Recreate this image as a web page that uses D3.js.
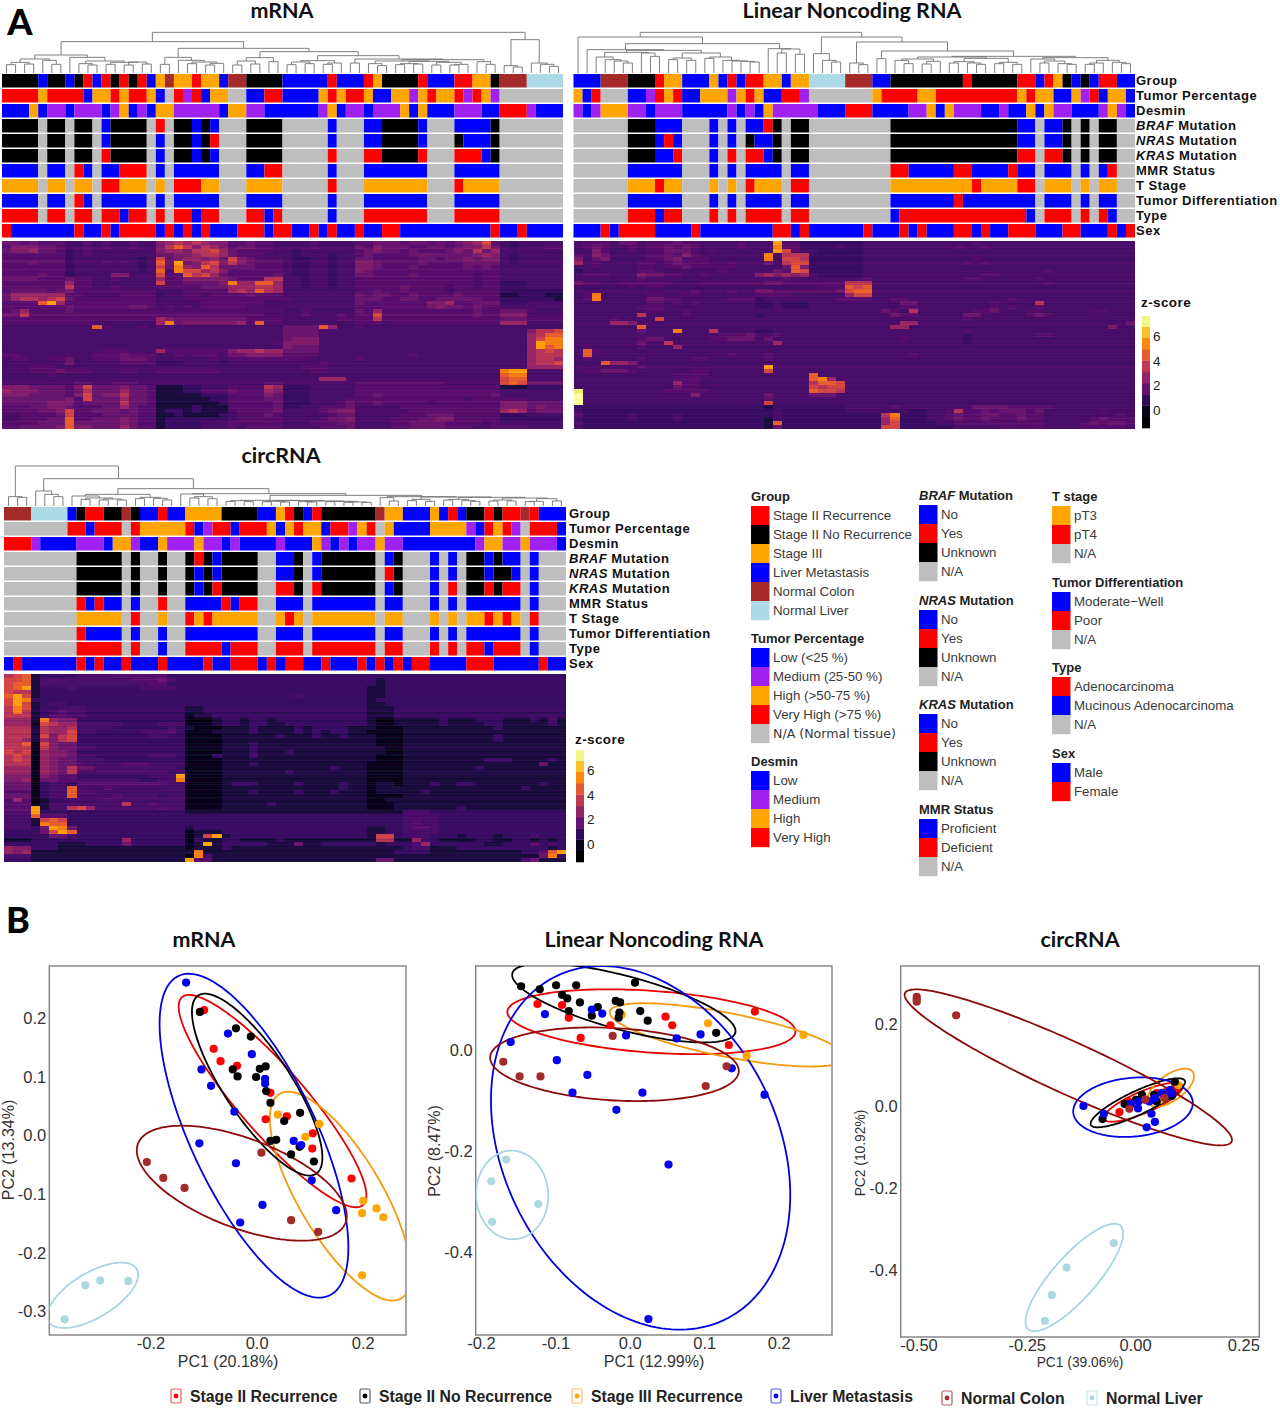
<!DOCTYPE html>
<html><head><meta charset="utf-8">
<script src="https://cdn.jsdelivr.net/npm/d3@7/dist/d3.min.js"></script>
<style>html,body{margin:0;background:#fff}svg{display:block}</style></head>
<body><svg id="c" width="1280" height="1424"></svg>
<script>
const trackLabels=[["","Group"],["","Tumor Percentage"],["","Desmin"],["BRAF"," Mutation"],["NRAS"," Mutation"],["KRAS"," Mutation"],["","MMR Status"],["","T Stage"],["","Tumor Differentiation"],["","Type"],["","Sex"]];
const palette={R:"#ff0000",K:"#000000",O:"#ffa500",B:"#0000ff",N:"#a52a2a",L:"#add8e6",P:"#a020f0",G:"#bebebe"};

const mrnaTracks=[
"K4B1K2B1K1R1B1R1K1R1K1R1B1O1N1O2R1O2B1N2K4B5R1B3R1O1K4R1B3R2O2K1N3L4",
"R4O1R4B1O2R1O1R2O1B1G1R1P1R1B1O2G2B2R2B4O1R1O1R2O1B2O2P1O1R1O2R1P1R1O1P1G7",
"B3O1B1P2B1P3B1P1O1B1P1B1O2P5B1O2P2B6P1O1B1P2B1P3O1B1O1B3P3B2R3P1B3",
"K4G1K2G1K2G1B1K4G1R1G1K2B1K1B1G3K4G5B1G3B2K4B1G3B4K1G7",
"K4G1K2G1K2G1B1K4G1B1G1K2B1K1R1G3K4G5B1G3B2K4B1G3K1B3K1G7",
"K4G1K2G1K2G1R1K4G1B1G1K2B1K1B1G3K4G5R1G3R2K4R1G3R3B1K1G7",
"B4G1B2G1R1B1G1B2R3G1B1G1B5G3B2R2G5B1G3B7G3B5G7",
"O4G1O2G1O2G1R2O3G1O1G1R3O2G3O4G5R1G3O7G3R1O4G7",
"B4G1B2G1R1B1G1B5G1B1G1B5G3B4G5B1G3B7G3B5G7",
"R4G1R2G1R2G1R2B1R2G1R1G1R2B1R2G3R2B1R1G5B1G3R7G3R5G7",
"R1B7R1B2R1B1R4B1R1B1R1B1R1B3R3B1R2B2R1B1R1B2R1B2R2B10R1B2R1B4"];
const lncTracks=[
"B3N3K3R1O2B3O1B1R1B1R2O2B1O2L4N3B2K8R1K5R2B1R1O1K1B1K1B1R2B2",
"O1B1R1G3B2P1R1O1R1B2O3P1O1R1O1B2R2P1G7O1R4O2R9O1R1O2B2O1P1R1B1O2B1",
"P1B1P1O3P2B1P3B5P1B1P1B1O1P5B3R3B4P2O1B1O1P3B2P1B2O1B1O1P2B3P1O1P1B1",
"G6K3B3G3B1G1B1G1B2R1K1G1K2G9K14B2G1B2K1G1K1G1K2G2",
"G6K3B1R1B1G3B1G1B1G1K1B2K1G1K2G9K14B2G1B2K1G1K1G1K2G2",
"G6K3B2R1G3B1G1R1G1R2B1K1G1K2G9K14R2G1R2K1G1K1G1K2G2",
"G6B6G3B1G1B1G1B4G1B2G9R2B5R2B4R1B2G1B3G1B1G1B1R1G2",
"G6O3R1O2G3O1G1O1G1R1O3G1R2G9O9R1O4R2G1O3G1O1G1O2G2",
"G6B6G3B1G1B1G1B4G1B2G9B7R1B8G1B3G1B1G1B2G2",
"G6R3B1R2G3R1G1R1G1R4G1R2G9B1R14B1G1R3G1R1G1R1B1G2",
"B3R1B1R4B4R1B8R2B1R1B6R1B3R1B1R1B3R2B1R1B2R3B3R2B3R1B1R1"];
const circTracks=[
"N3L4B1K1R2K2N1K1B2R1B2O4K4B2O1R1K1B1R1K6N1O2B3O1B1R1B1K2R1K1R2N1R1B3",
"G7R2B1R3G1R1O5R1B1P1R2B1R3O1B1O1R1O2B1R2P1O1R1G1O1B4O4P1B1R1O1R1P1G1R3B1",
"R3P1B4P3B1O2P1B2O1P3O1P2B1P1B4P1B3O1P1B1P1B1P2O1P2B8P1O2P2O1P3B1",
"G8K5G1K1G2K1G2K1R1K1B1K4G2B2K1G1B1K6G1B1K1G3B1G1B1G1K2B1K1B2G1B1G3",
"G8K5G1K1G2K1G2K1B1K1B1K4G2B2K1G1B1K6G1R1K1G3B1G1B1G1K2B1K2B1G1B1G3",
"G8K5G1K1G2K1G2K1B1K1R1K4G2R2K1G1R1K6G1B1K1G3B1G1R1G1K2R1K1R2G1B1G3",
"G8R1B1R1B2G1B1G2R1G2B4R1B1R2G2B3G1B7G1B2G3B1G1B1G1B6G1B1G3",
"G8O5G1R1G2O1G2R1O1R1O5G2O1R1O1G1O7G1O2G3O1G1O1G1O2R1O1R1O1G1R1G3",
"G8R1B4G1B1G2B1G2B8G2B3G1B7G1B2G3B1G1B1G1B6G1B1G3",
"G8R5G1R1G2B1G2R4B1R3G2R3G1R7G1R2G3R1G1R1G1R2B1R3G1B1G3",
"B1R1B6R1B1R1B2R1B3R1B4R1B2R3B1R1B1R2B2R1B3R1B1R1B1R1B1R2B4R3B5R1B2"];

// heatmap levels, one hex digit per sample
const mrnaHeat=[
"55454 44334 34334 33 67878766 445443 33343333 44555455 45456794 323 3333",
"46665 54334 34334 33 68a86876 455443 33343333 54655544 55456685 323 3344",
"56675 54234 33333 33 67768897 544443 32333333 45655454 44565857 333 3333",
"44444 44234 33333 33 55667887 544433 32333233 45444455 55555676 323 3333",
"44444 44233 33333 23 95677675 965444 32233233 55444445 54556566 323 3333",
"44454 44233 34343 23 a5c56896 865444 32233233 66544445 44445555 323 3333",
"44444 44233 33333 23 95b76a85 555444 32233233 66544454 44445454 333 3333",
"44444 44233 33333 23 a3b99786 444444 32233233 65444444 44444444 333 3333",
"44445 44233 33663 33 944a8975 444445 32233233 55444454 44444344 333 3333",
"55554 44544 33433 33 74466666 544488 33233233 44444444 44444344 333 3333",
"44444 44744 33333 33 94455556 b77aa7 33233233 44444444 44444344 222 3333",
"44444 44844 33433 33 44444555 777887 33233233 44444544 44344344 222 3333",
"45555 45644 44444 44 33344444 787a87 33333333 44544544 44344444 222 2222",
"57777 77443 33344 44 23344344 445444 33333333 54554454 44454444 112 2211",
"57887 89544 44444 44 33344444 444444 43333333 55544554 45555544 222 2221",
"4444a c7444 44444 44 33333444 444433 33333333 54444444 66744555 222 3333",
"44444 44544 44445 54 34343444 443333 33333333 44444444 56554544 333 3333",
"45744 44544 44444 44 44444444 444444 33433333 54744444 44444544 555 4333",
"55844 44444 44444 44 44444444 444433 33433343 44944444 44444544 666 3333",
"44444 44444 44444 44 76555555 554444 33333344 44844444 44444444 555 4444",
"44444 44444 33333 33 7b566666 674a44 33333333 44434444 44444444 777 3333",
"33333 33333 a4333 43 43333333 333333 5555a733 43333333 33333333 333 3333",
"33333 33333 33333 33 33333333 333333 55553333 33333333 33333333 333 6889",
"33333 33333 33333 33 33333333 333333 55553333 33333333 33333333 333 78aa",
"33333 33333 33333 33 33333333 333333 56663333 33333333 33333333 333 79bb",
"33333 33333 33333 33 33333333 333334 66663333 33333333 33333333 333 7cbb",
"33333 33333 33333 33 33333333 333333 65553333 33333333 33333333 333 7cab",
"33333 33333 34443 33 74444444 677877 55553333 33333333 33333333 333 7898",
"44333 33333 44454 44 33434443 556666 44443333 33333343 33333333 333 7888",
"34433 44533 44455 54 33333343 444444 44433333 43333333 33333333 333 7887",
"33333 33533 33344 44 22233332 333333 33334333 33333333 33333333 333 7889",
"33344 43333 33333 33 33333333 333333 33444333 33333333 33333333 333 7777",
"33344 45444 33344 33 44444443 333333 33344333 33333333 33333333 bcc 3333",
"33333 43333 33333 33 33333333 333333 33333333 33333333 33333333 abb 3333",
"33333 33333 33333 33 33333333 333333 33337773 33333333 33333333 9aa 3333",
"33333 33344 33444 33 33333333 333344 33333333 44444444 44333333 9a9 5555",
"66655 55469 55565 54 11122333 444487 22233333 44444444 44444444 111 2222",
"76665 55458 55575 54 11122444 544476 22233333 44444444 44444444 333 3333",
"66655 55469 56685 54 11111222 444465 22233333 44544444 44444445 333 3333",
"55555 55649 55575 54 11111122 444455 22233334 44444444 44443444 444 3333",
"55555 66645 55585 54 11111112 444445 22233345 44544444 34444444 666 5555",
"44455 66544 45575 44 11112111 444445 22334445 33333444 44444444 666 5655",
"44445 56944 55545 44 12212111 344445 33334566 33333344 44444444 787 4555",
"33444 45944 45555 44 11211112 344454 33333455 33333444 55544444 222 3333",
"33444 55a44 55565 44 12222222 344444 33334556 33334445 56644444 222 2222",
"44445 55a55 55565 44 12222333 444444 33344455 33334455 55444434 333 3333",
"44555 56a66 55575 44 12222333 434444 33334445 33334455 55444334 444 3333"];
const lncHeat=[
"34443 55344 45443 33343 33c44 22222 22333 33333 33334 33333 33333 33333 33",
"34543 34344 54543 33343 33b44 22223 22333 33333 33433 43333 33333 33333 33",
"33643 34344 55543 43333 33c94 33222 22333 33333 33333 33333 33333 33333 33",
"43653 33344 54643 33333 3b388 82222 22333 33333 33333 33333 33333 33333 33",
"63563 33344 56444 33333 3b399 82222 22333 33333 33334 33333 33333 33333 33",
"73433 33443 45444 33433 35389 92222 22333 33333 33343 43333 33333 33333 33",
"33433 33443 44544 44433 3335a 62222 22333 33333 33333 33333 33333 33333 33",
"23333 33443 33333 34333 3354a 92222 22333 33333 33333 33333 33433 33333 33",
"34443 33655 44334 33333 67676 73222 22333 33333 33333 44333 33333 33333 33",
"33333 33433 33333 33333 33343 33333 33433 33333 33344 33333 34333 33333 33",
"54433 44444 43334 44444 45544 44444 88833 33333 33333 33333 33433 33333 33",
"33333 34344 33333 33333 33333 33444 a9a33 33333 33333 33333 33333 33333 33",
"33333 33333 33343 33433 55444 44445 9aa33 33333 33333 33333 33333 33333 33",
"34b33 33344 33443 33333 44443 33333 79933 33333 33333 33333 33333 33333 33",
"34b33 33355 44333 33444 23333 33334 44433 44333 33333 33343 33333 33333 33",
"33333 33344 34343 33333 22322 23333 33333 35533 33333 34333 38333 33333 33",
"33333 33444 33333 33333 22322 23333 33333 34433 33333 34343 34333 33333 33",
"33333 33344 33433 33333 33333 33333 33335 43833 33334 45333 44333 33443 33",
"33333 33833 33433 33333 23333 33333 33333 54433 33355 33333 45433 33333 33",
"33334 33339 33333 33333 33333 33333 33333 33333 33343 33333 33333 33333 33",
"33337 76333 33333 33333 33333 33333 33333 37733 33333 33333 33333 33333 35",
"33333 33a33 33333 33333 33333 33333 33333 77333 33333 33333 33333 33336 33",
"33333 33533 3b333 83333 22333 33333 33333 33333 33343 33333 33333 33333 33",
"33333 33333 33333 34445 33433 33333 33333 33333 33323 33333 34433 33333 33",
"33333 33455 33333 44555 35333 33333 33333 34333 33323 33333 33333 33333 33",
"33333 33533 83333 33333 33733 33333 33333 33333 33323 33333 33333 33333 33",
"34333 33433 37333 33333 33333 33333 33333 33333 33333 33333 33333 33333 33",
"3a433 33333 33333 33333 33333 33333 33333 33333 33333 33333 33333 33333 33",
"3a333 33333 33333 33433 34333 33333 33333 33433 33333 33333 33333 33333 33",
"34333 33433 33344 33333 34333 33333 33333 33333 33333 33333 33333 33333 33",
"333a7 76333 33333 33333 33333 33333 33333 33333 33333 33333 33333 33333 33",
"33333 33433 33333 33333 3c333 33333 33333 33333 33333 33333 33333 33333 33",
"34455 54333 33344 33333 39333 33333 33333 33333 33333 33333 33333 33333 33",
"33333 33333 34444 33333 33333 3a333 33333 33333 33333 33333 33333 33333 33",
"33333 33333 34443 33333 33333 3ab73 33333 33333 33333 33333 33333 33333 33",
"33333 33333 37443 33333 33333 38aa9 33333 33333 33333 33333 33333 33333 33",
"33333 33333 35443 33333 33333 39899 33333 33333 33333 33333 33333 33333 33",
"e3333 33333 44444 33333 33333 3a998 33333 33333 33333 33333 33333 33333 33",
"f3333 33333 33363 33333 35333 35553 33333 33333 33333 33333 33333 33333 33",
"f3333 33333 33333 33333 34333 33333 33333 33333 33333 33333 33333 33333 33",
"f3333 33333 33333 33333 39333 33333 33333 33333 33333 33333 33333 33333 33",
"22222 22222 22222 22222 21222 22222 33333 43333 33335 55544 44433 33333 33",
"32222 22222 22222 22222 22322 22222 33333 33223 34844 54555 45333 33343 33",
"42222 23222 23222 22222 22322 22222 22228 b2223 34544 55445 44333 33333 43",
"32222 23222 23222 22222 21322 22222 22227 a2223 34544 54445 44333 33454 44",
"42222 22222 22222 22222 21a22 22222 22227 92222 33444 44444 44333 34545 54",
"32222 22222 22222 22222 21522 22222 22229 92222 22333 33444 44333 34444 43"];
const circHeat=[
"89a12 22233 33444 44422 22222 22222 22222 22222 22222 22222 22222 22222 22",
"99a13 43333 33334 44532 22222 22222 22222 22222 21222 22222 22222 22222 22",
"9aa13 33333 33333 34422 22222 22222 22222 22222 21222 22222 22222 22222 22",
"9ac12 22322 22222 33332 22222 22222 22222 22222 11222 22222 22222 22222 22",
"98812 22222 22222 22222 22222 22222 22222 22222 11222 22222 22222 22222 22",
"ac912 22222 22222 22222 22222 22222 22322 22222 11222 22222 22222 22222 22",
"9cb22 22222 22222 22222 22222 22222 22222 22222 12222 22222 22222 22222 22",
"9c912 33222 22222 22222 22222 22222 22222 22222 11222 22222 22222 22222 22",
"8b912 23332 22222 22222 11222 22222 22222 22222 11122 22222 22222 22222 22",
"8b812 34332 22222 22222 11222 22222 22222 22222 11122 22222 22222 22222 22",
"88812 44332 22222 22222 01122 22222 22222 22222 11122 22222 22222 22222 22",
"7771b 76622 22222 22222 00012 21221 22222 22222 10011 11121 11222 11121 31",
"77709 87733 33322 22333 00012 21221 12222 22222 10011 11121 11122 11111 21",
"88818 77833 33222 22232 10001 11211 11212 22211 10001 11111 11112 11111 11",
"88818 77933 22222 33342 00011 11211 11212 12211 00001 11111 11111 11111 11",
"88819 68922 22222 23322 00001 11111 21112 11211 10001 11111 11112 11111 11",
"88717 68922 22222 22222 00001 11111 11111 11111 10001 11111 11112 11111 11",
"88a09 65522 22222 22222 00001 11211 11111 11111 10001 11111 11111 11111 11",
"88808 65533 22222 22222 00001 11211 11111 11111 11001 11111 11111 11111 11",
"98907 66522 22222 22222 00001 11211 12111 11111 11001 11111 11111 11111 11",
"89807 66533 22222 23332 00021 11311 11111 11111 10001 11111 11111 11111 11",
"89807 65533 32222 22222 00001 11111 11111 11111 10001 11111 11122 21111 21",
"88807 65543 33344 43333 00001 11211 11111 11111 00001 11111 11111 11115 11",
"77707 65855 33333 33332 00001 11111 11111 12111 00001 11111 11211 11111 11",
"77707 65833 33333 33323 00001 11111 12111 11111 00001 11111 11111 11111 11",
"66606 54422 22222 2333c 00001 11111 11111 11111 00001 11111 11111 11111 11",
"66705 54433 33333 2233b 00001 11111 11111 11111 00001 11111 11111 11111 11",
"55502 33244 44444 44433 00001 22211 11211 11211 01101 11211 22111 11112 11",
"55502 33a33 34333 33333 00001 11111 11111 11211 01111 11111 11111 11211 11",
"44402 33a44 33333 33333 00001 11211 11211 12111 01111 12111 11111 11111 11",
"55502 33a33 33433 33233 00001 11111 11111 11111 00001 11111 11111 11111 11",
"47401 22333 34333 33333 00001 11111 11111 11111 00111 11111 11111 11111 11",
"44401 33333 33383 34333 00001 11112 11111 11111 00011 11111 11111 11111 11",
"444c1 33897 33333 33433 00001 11111 11111 11111 00011 11111 21111 11111 11",
"444c2 22222 22222 22222 11111 11111 11111 11111 11113 33222 22222 22222 22",
"333a4 44222 22222 22222 22222 22222 22222 22222 22223 33322 22222 22222 22",
"33319 a9222 22222 22222 22222 22222 22222 22222 22223 43322 22222 22222 22",
"3331b aa222 22222 22222 22222 22222 22222 22222 22223 43322 22222 22222 22",
"33325 cb522 22222 22222 12222 22222 22222 22222 11223 44322 22222 22222 22",
"22225 9ca22 22222 22222 01112 22222 22222 22222 11223 33322 22222 22222 22",
"22222 55322 22222 22222 019c1 22222 22222 22222 19923 33222 12221 22232 22",
"11122 22222 22272 22222 02112 21111 21111 11111 18811 73211 11221 12212 12",
"22222 21112 22252 22222 01c12 22221 11511 22222 21222 37222 22211 22242 32",
"76622 21111 11111 11111 01112 11111 11111 11111 11112 33111 22222 22222 12",
"76711 11111 11111 11111 1b111 11111 11111 11111 11122 22111 11111 11224 ac",
"33311 11111 11111 11111 0b311 11111 11111 11111 11111 11111 11111 11115 b2",
"22211 11111 11111 11111 c4411 11111 11111 11111 15511 11111 11111 11351 11"];
// the z value each level digit stands for
const heatLevels=[-0.1,0.4,0.95,1.25,1.55,1.9,2.3,2.8,3.4,4.0,4.6,5.2,5.8,6.4,7.0,7.5];
// pixel-row streaks estimated across each heatmap (4 = none)
const mrnaStreak="4453344644435444424655444344644443464445344436444254446344443544464442443654444534442444444444444444444434444444445444443464344544462444354446534444264445343444642444354463444254446344435444";
const lncStreak="4435446344424455343444644344254446443544437444324465434443544624443544426344445344464424444354463344544644254443644453444244365444443624445444354442644435444634442454463344453446244354444";
const circStreak="4444454444444544444454444444344444545623474445235446243544623445534426444735524465334462444354426544634524445362443544263445544244634445524463444344254446344445344452444463444524454436444";

// dendrograms: [merge height, left, right]; 1 is one sample
const mrnaDendro=[122,
 [94,
  [54,[42,[32,[25,1,1],[27,1,1]],[38,1,[26,1,1]]],
      [47,1,[36,[28,1,[24,1,1]],[32,[26,1,1],[33,[24,1,1],[27,1,1]]]]]],
  [74,[47,[26,1,1],[38,1,[33,[28,1,1],[29,[24,1,1],1]]]],
      [64,[46,[36,[24,1,1],[27,1,1]],[34,1,1]],
          [52,[37,[33,[25,1,1],[28,1,1]],[30,[26,1,1],1]],
              [42,[30,1,1],
                  [40,[36,[28,1,[22,1,1]],[35,[28,[25,1,1],[27,1,1]],[32,[24,1,1],[26,[24,1,1],1]]]],
                      [34,1,[26,1,1]]]]]]]],
 [100,[22,1,[18,1,1]],[30,1,[26,1,[20,1,1]]]]];
const lncDendro=[122,
 [108,1,
  [88,
   [70,1,[68,
     [62,[48,1,[40,1,[36,1,[30,1,1]]]],[60,1,[50,1,1]]],
     [60,[45,[40,1,1],[38,1,1]],[48,[44,1,1],[38,1,[36,1,[35,1,[33,1,1]]]]]]]],
   [73,1,[72,[60,1,1],[56,1,1]]]]],
 [108,
  [58,1,[38,1,[33,1,1]]],
  [93,[30,1,[25,1,1]],
   [66,[43,1,1],
    [50,
     [48,[42,[38,1,[28,1,1]],[35,[27,1,1],1]],[44,[34,[30,1,1],[30,1,[26,1,1]]],[32,[28,1,1],[26,1,1]]]],
     [46,[42,1,[36,[30,1,1],[28,1,[26,1,1]]]],[38,[30,[26,1,1],1],[32,1,[28,1,1]]]]]]]]];
const circDendro=[120,
 [28,1,[26,1,1]],
 [82,[45,1,[35,1,[28,1,1]]],
  [52,
   [35,[30,1,[24,[20,1,1],[21,[18,1,1],[18,1,1]]]],[26,[22,1,1],[23,1,[18,1,1]]]],
   [37,[36,1,[28,[24,1,1],[22,1,1]]],
    [32,
     [17,[16,[14,1,1],[13,1,1]],[16,[14,[13,1,1],[12,1,1]],[15,[13,1,[12,1,1]],[14,[13,1,1],[12,[11,1,1],[11,1,1]]]]]],
     [28,[25,1,[15,1,1]],[27,[20,[16,1,1],[14,1,1]],[26,[20,[18,1,1],[16,1,[14,1,1]]],[24,[18,[15,1,1],[15,1,1]],[22,[14,[13,1,1],1],[15,1,1]]]]]]]]]]];

// PCA points [PC1, PC2]
const mrnaRec=[[-0.099,0.214],[-0.081,0.148],[-0.068,0.127],[-0.037,0.119],[0.026,0.073],[0.017,0.028],[0.057,0.033],[0.106,0.004],[0.105,-0.022],[0.179,-0.073]];
const mrnaIII=[[0.040,0.036],[0.092,-0.002],[0.118,0.020],[0.201,-0.111],[0.199,-0.132],[0.226,-0.124],[0.239,-0.139],[0.199,-0.238]];
const mrnaNoRec=[[-0.107,0.211],[-0.039,0.183],[-0.011,0.169],[-0.045,0.113],[-0.036,0.101],[-0.001,0.100],[0.006,0.114],[0.017,0.118],[0.018,0.076],[0.026,0.056],[0.052,0.025],[0.082,0.039],[0.026,-0.009],[0.037,-0.007],[0.065,-0.032],[0.081,-0.019],[0.108,-0.044]];
const mrnaLiver=[[-0.133,0.261],[-0.054,0.174],[-0.009,0.139],[-0.104,0.113],[-0.086,0.085],[0.016,0.097],[0.016,0.089],[-0.042,0.041],[-0.108,-0.013],[-0.039,-0.047],[0.070,-0.009],[0.084,-0.016],[0.104,-0.076],[0.011,-0.118],[-0.031,-0.148],[0.150,-0.127]];
const mrnaColon=[[-0.207,-0.045],[-0.176,-0.072],[-0.136,-0.089],[0.009,-0.029],[0.065,-0.144],[0.116,-0.164]];
const mrnaNormLiver=[[-0.242,-0.248],[-0.295,-0.247],[-0.323,-0.255],[-0.362,-0.313]];
const lncRec=[[-0.124,0.091],[-0.091,0.089],[-0.082,0.064],[-0.026,0.049],[-0.066,0.024],[0.048,0.066],[0.057,0.049],[0.168,0.076],[0.133,0.010]];
const lncIII=[[-0.011,0.070],[0.105,0.053],[0.233,0.030],[0.157,-0.011]];
const lncNoRec=[[-0.146,0.126],[-0.121,0.120],[-0.099,0.128],[-0.072,0.128],[0.007,0.133],[-0.091,0.109],[-0.084,0.102],[-0.067,0.094],[-0.043,0.085],[-0.082,0.077],[-0.051,0.068],[-0.019,0.097],[-0.013,0.094],[-0.014,0.074],[-0.015,0.064],[0.014,0.077],[0.024,0.058],[0.116,0.034]];
const lncLiver=[[-0.114,0.071],[-0.051,0.080],[-0.037,0.072],[-0.160,0.016],[-0.098,-0.020],[-0.057,-0.049],[-0.077,-0.084],[0.017,-0.084],[-0.018,-0.118],[-0.005,0.029],[0.063,0.023],[0.095,0.031],[0.137,-0.036],[0.181,-0.088],[0.052,-0.226],[0.025,-0.531]];
const lncColon=[[-0.023,0.028],[-0.170,-0.023],[-0.148,-0.052],[-0.120,-0.052],[0.130,-0.032],[0.102,-0.071]];
const lncNormLiver=[[-0.166,-0.216],[-0.186,-0.259],[-0.123,-0.304],[-0.185,-0.339]];
const circRec=[[-0.036,-0.015],[-0.015,0.011],[0.023,0.015],[0.050,0.031],[0.073,0.035],[0.092,0.055],[0.096,0.043]];
const circIII=[[0.058,0.015],[0.081,0.027],[0.100,0.051],[0.092,0.059]];
const circNoRec=[[-0.075,-0.032],[-0.024,0.005],[-0.013,0.004],[0.002,0.015],[0.016,0.027],[0.044,0.027],[0.050,0.011],[0.085,0.024],[0.092,0.059]];
const circLiver=[[-0.119,0],[-0.072,-0.019],[-0.009,0.005],[0.008,0.011],[0.007,-0.006],[0.033,0.011],[0.038,-0.019],[0.046,-0.039],[0.027,-0.052],[0.046,0.019],[0.062,0.031],[0.081,0.039],[0.069,0.023],[0.085,0.031]];
const circColon=[[-0.504,0.266],[-0.504,0.260],[-0.504,0.254],[-0.413,0.221],[-0.013,-0.007],[0.024,0.016],[0.068,0.020]];
const circNormLiver=[[-0.049,-0.334],[-0.158,-0.394],[-0.192,-0.461],[-0.208,-0.524]];

// ellipse summaries, order as groups: [centre PC1, centre PC2, half range PC1, half range PC2, correlation]
const mrnaEll=[[0.030,0.059,0.177,0.181,-0.89],[0.158,-0.103,0.133,0.178,-0.74],[0.001,0.087,0.123,0.155,-0.80],[-0.005,0,0.178,0.276,-0.69],[-0.028,-0.081,0.198,0.098,-0.57],[-0.309,-0.272,0.0855,0.0557,0.63]];
const lncEll=[[0.029,0.056,0.1935,0.064,-0.30],[0.131,0.030,0.158,0.0625,-0.71],[-0.008,0.093,0.150,0.078,-0.71],[0.0145,-0.193,0.201,0.359,-0.26],[-0.0206,-0.028,0.167,0.0727,-0.18],[-0.158,-0.286,0.0485,0.0875,-0.02]];
const circEll=[[0.019,0.009,0.091,0.0475,0.80],[0.0827,0.0446,0.0535,0.0463,0.61],[0.0065,0.0077,0.109,0.0597,0.85],[-0.0046,-0.003,0.138,0.0726,0.14],[-0.154,0.094,0.378,0.190,-0.93],[-0.14,-0.418,0.1127,0.131,0.82]];

const groupNames=["Stage II Recurrence","Stage III Recurrence","Stage II No Recurrence","Liver Metastasis","Normal Colon","Normal Liver"];
const groupDots=["#ff0000","#ffa500","#000000","#0000ee","#a52a2a","#add8e0"];
const groupLines=["#e60000","#f59a0e","#000000","#0000e0","#8b0a0a","#a8d5df"];
const bottomOrder=[0,2,1,3,4,5];

const legendCol1=[["Group",["Stage II Recurrence","R"],["Stage II No Recurrence","K"],["Stage III","O"],["Liver Metastasis","B"],["Normal Colon","N"],["Normal Liver","L"]],
 ["Tumor Percentage",["Low (<25 %)","B"],["Medium (25-50 %)","P"],["High (>50-75 %)","O"],["Very High (>75 %)","R"],["N/A (Normal tissue)","G"]],
 ["Desmin",["Low","B"],["Medium","P"],["High","O"],["Very High","R"]]];
const legendCol2=[["BRAF| Mutation",["No","B"],["Yes","R"],["Unknown","K"],["N/A","G"]],
 ["NRAS| Mutation",["No","B"],["Yes","R"],["Unknown","K"],["N/A","G"]],
 ["KRAS| Mutation",["No","B"],["Yes","R"],["Unknown","K"],["N/A","G"]],
 ["MMR Status",["Proficient","B"],["Deficient","R"],["N/A","G"]]];
const legendCol3=[["T stage",["pT3","O"],["pT4","R"],["N/A","G"]],
 ["Tumor Differentiation",["Moderate\u2212Well","B"],["Poor","R"],["N/A","G"]],
 ["Type",["Adenocarcinoma","R"],["Mucinous Adenocarcinoma","B"],["N/A","G"]],
 ["Sex",["Male","B"],["Female","R"]]];
const zTicks=[0,2,4,6];
const zBandEdges=[-1.47,-0.55,0.37,1.29,2.2,3.1,4.05,4.97,5.9,6.8,7.67];

const svg=d3.select("#c");
const defs=svg.append("defs");
defs.append("filter").attr("id","soft").attr("x","-2%").attr("y","-2%").attr("width","104%").attr("height","104%")
  .append("feGaussianBlur").attr("stdDeviation","0.6 0.35");
const heat=d3.scaleSequential(d3.interpolateInferno).domain([-0.5,7.5]).clamp(true);
const N=62;
const SANS="'Liberation Sans',Arial,sans-serif", HEAD="Lato,'Open Sans',sans-serif";

function rle(s){const out=[];const re=/([A-Z])(\d+)/g;let m,i=0;while((m=re.exec(s))){const n=+m[2];out.push({c:m[1],i,n});i+=n;}return out;}

function heatPanel(p){
  const g=svg.append("g");
  const x=d3.scaleBand(d3.range(N),[p.x0,p.x1]);
  const root=d3.hierarchy(p.dendro,d=>Array.isArray(d)?d.slice(1):null);
  let leaf=0;
  root.eachAfter(n=>{ if(!n.children){n.px=x(leaf++)+x.bandwidth()/2;n.h=0;} else {n.px=d3.mean(n.children,c=>c.px);n.h=n.data[0];}});
  const ys=d3.scaleLinear([0,122],[p.top-1,p.top-1-122/3]);
  const pth=d3.path();
  root.each(n=>{ if(n.children){const [a,b]=n.children;
    pth.moveTo(a.px,ys(a.h));pth.lineTo(a.px,ys(n.h));pth.lineTo(b.px,ys(n.h));pth.lineTo(b.px,ys(b.h));}});
  g.append("path").attr("d",pth.toString()).attr("fill","none").attr("stroke","#707070").attr("stroke-width",0.9);
  const tr=d3.scaleBand(d3.range(11),[p.top,p.top+163.5]).paddingInner(0.1);
  p.tracks.forEach((t,k)=>{
    g.append("g").selectAll("rect").data(rle(t)).join("rect")
     .attr("x",d=>x(d.i)).attr("width",d=>x.step()*d.n).attr("y",tr(k)).attr("height",tr.bandwidth())
     .attr("fill",d=>palette[d.c]);
  });
  if(p.labelGap!=null) trackLabels.forEach((l,k)=>{
    const t=g.append("text").attr("x",p.x1+p.labelGap).attr("y",tr(k)+tr.bandwidth()/2+4.5)
      .attr("font-family",SANS).attr("font-size",13).attr("letter-spacing",0.5).attr("font-weight",700).attr("fill","#111");
    if(l[0]) t.append("tspan").attr("font-style","italic").text(l[0]);
    t.append("tspan").text(l[1]);
  });
  const rows=p.heat.map(s=>s.replace(/ /g,""));
  const fineRows=p.hy1-p.hy0;
  const y=d3.scaleBand(d3.range(fineRows),[p.hy0,p.hy1]);
  const clipId="clip"+p.id;
  defs.append("clipPath").attr("id",clipId).append("rect").attr("x",p.x0).attr("y",p.hy0).attr("width",p.x1-p.x0).attr("height",p.hy1-p.hy0);
  const cells=[];
  for(let r=0;r<fineRows;r++){
    const s=rows[Math.min(rows.length-1,Math.floor(r*rows.length/fineRows))];
    const off=((+(p.streak[r]||4))-4)*0.13;
    for(let c=0;c<N;c++){cells.push({r,c,z:heatLevels[parseInt(s[c]||s[s.length-1],16)]+off});}
  }
  const hg=g.append("g").attr("clip-path",`url(#${clipId})`).append("g").attr("filter","url(#soft)");
  hg.selectAll("rect").data(cells).join("rect")
    .attr("x",d=>Math.round(x(d.c))).attr("y",d=>y(d.r))
    .attr("width",d=>Math.round(x(d.c)+x.step())-Math.round(x(d.c))).attr("height",y.step()).attr("fill",d=>heat(d.z));
}
heatPanel({id:"m",x0:2,x1:563,top:74,hy0:241,hy1:429,tracks:mrnaTracks,heat:mrnaHeat,dendro:mrnaDendro,streak:mrnaStreak,labelGap:null});
heatPanel({id:"l",x0:573.5,x1:1135,top:74,hy0:241,hy1:429,tracks:lncTracks,heat:lncHeat,dendro:lncDendro,streak:lncStreak,labelGap:1});
heatPanel({id:"c",x0:4,x1:566,top:507,hy0:674,hy1:862,tracks:circTracks,heat:circHeat,dendro:circDendro,streak:circStreak,labelGap:3});

function colorbar(x,y0,y1,titleY){
  const g=svg.append("g");
  const s=d3.scaleLinear([zBandEdges[0],zBandEdges[10]],[y1,y0]);
  g.selectAll("rect").data(d3.pairs(zBandEdges)).join("rect")
   .attr("x",x).attr("width",8).attr("y",d=>s(d[1])).attr("height",d=>s(d[0])-s(d[1])+0.3).attr("fill",d=>heat((d[0]+d[1])/2));
  g.selectAll("text.t").data(zTicks).join("text").attr("class","t").attr("x",x+11).attr("y",d=>s(d)+5)
   .attr("font-family",SANS).attr("font-size",13.5).attr("fill","#222").text(d=>d);
  g.append("text").attr("x",x-1).attr("y",titleY).attr("font-family",SANS).attr("font-size",13.5).attr("letter-spacing",0.4).attr("font-weight",700).attr("fill","#111").text("z-score");
}
colorbar(1142,316,428,307);
colorbar(576,750,862,744);

function title(t,x,y){svg.append("text").attr("x",x).attr("y",y).attr("text-anchor","middle").attr("font-family",HEAD).attr("font-size",21.5).attr("font-weight",700).attr("fill","#111").text(t);}
title("mRNA",282,18);title("Linear Noncoding RNA",852,18);title("circRNA",281,463);
title("mRNA",204,947);title("Linear Noncoding RNA",654,947);title("circRNA",1080,947);
[["A",20,35],["B",18,933]].forEach(d=>svg.append("text").attr("x",d[1]).attr("y",d[2]).attr("text-anchor","middle").attr("font-family",HEAD).attr("font-size",36).attr("font-weight",900).attr("fill","#000").text(d[0]));

function legend(col,x,starts){
  const g=svg.append("g");
  col.forEach((b,k)=>{
    const y=starts[k];
    const parts=b[0].split("|");
    const t=g.append("text").attr("x",x).attr("y",y+4.5).attr("font-family",SANS).attr("font-size",13).attr("font-weight",700).attr("fill","#222");
    if(parts.length>1){t.append("tspan").attr("font-style","italic").text(parts[0]);t.append("tspan").text(parts[1]);}else t.text(parts[0]);
    const items=b.slice(1);
    const iy=d3.scaleBand(d3.range(items.length),[y+10,y+10+19*items.length]);
    g.append("g").selectAll("rect").data(items).join("rect").attr("x",x).attr("y",(d,i)=>iy(i)).attr("width",18.5).attr("height",19.2).attr("fill",d=>palette[d[1]]);
    g.append("g").selectAll("text").data(items).join("text").attr("x",x+22).attr("y",(d,i)=>iy(i)+14)
      .attr("font-family",d=>d[0].startsWith("N/A (")?"'DejaVu Sans',sans-serif":SANS).attr("font-size",d=>d[0].startsWith("N/A (")?12.6:13.3).attr("fill","#3a3a3a").text(d=>d[0]);
  });
}
legend(legendCol1,751,[496,638,761]);
legend(legendCol2,919,[495,600,704,809]);
legend(legendCol3,1052,[496,582,667,753]);

function pca(p){
  const g=svg.append("g");
  const x=d3.scaleLinear(p.xd,[p.fx0,p.fx1]), y=d3.scaleLinear(p.yd,[p.fy1,p.fy0]);
  const clipId="pc"+p.id;
  defs.append("clipPath").attr("id",clipId).append("rect").attr("x",p.fx0).attr("y",p.fy0).attr("width",p.fx1-p.fx0).attr("height",p.fy1-p.fy0);
  const fmt=d=>d3.format(p.fmt)(d).replace("\u2212","-");
  const ax=g.append("g").attr("transform",`translate(0,${p.fy1})`).call(d3.axisBottom(x).tickValues(p.xt).tickSize(0).tickPadding(2).tickFormat(fmt));
  const ay=g.append("g").attr("transform",`translate(${p.fx0},0)`).call(d3.axisLeft(y).tickValues(p.yt).tickSize(0).tickPadding(3).tickFormat(d=>d3.format(".1f")(d).replace("\u2212","-")));
  [ax,ay].forEach(a=>{a.select(".domain").remove();a.selectAll("text").attr("font-family",SANS).attr("font-size",16.5).attr("fill","#333");});
  g.append("rect").attr("x",p.fx0).attr("y",p.fy0).attr("width",p.fx1-p.fx0).attr("height",p.fy1-p.fy0).attr("fill","none").attr("stroke","#808080").attr("stroke-width",1.4);
  g.append("text").attr("x",p.xtx).attr("y",1367).attr("text-anchor","middle").attr("font-family",SANS).attr("font-size",p.ts).attr("fill","#333").text(p.xl);
  g.append("text").attr("transform",`translate(${p.ytx},${p.yty}) rotate(-90)`).attr("text-anchor","middle").attr("font-family",SANS).attr("font-size",p.ts).attr("fill","#333").text(p.yl);
  const cg=g.append("g").attr("clip-path",`url(#${clipId})`);
  const line=d3.line().x(d=>x(d[0])).y(d=>y(d[1])).curve(d3.curveLinearClosed);
  p.ell.forEach((e,k)=>{
    const [cx,cy,hx,hy,r]=e, q=Math.sqrt(1-r*r);
    const pts=d3.range(0,2*Math.PI,Math.PI/90).map(t=>[cx+hx*Math.cos(t),cy+hy*(r*Math.cos(t)+q*Math.sin(t))]);
    cg.append("path").attr("d",line(pts)).attr("fill","none").attr("stroke",groupLines[k]).attr("stroke-width",1.8);
  });
  p.pts.forEach((pp,k)=>{
    g.append("g").selectAll("circle").data(pp).join("circle").attr("cx",d=>x(d[0])).attr("cy",d=>y(d[1])).attr("r",4.1).attr("fill",groupDots[k]);
  });
}
pca({id:"a",xd:[-0.391,0.2817],yd:[-0.3397,0.2892],fx0:49.3,fx1:406,fy0:966,fy1:1335,xt:[-0.2,0,0.2],yt:[-0.3,-0.2,-0.1,0,0.1,0.2],fmt:".1f",
  xl:"PC1 (20.18%)",yl:"PC2 (13.34%)",xtx:228,ytx:14,yty:1150,ts:16,ell:mrnaEll,pts:[mrnaRec,mrnaIII,mrnaNoRec,mrnaLiver,mrnaColon,mrnaNormLiver]});
pca({id:"b",xd:[-0.207,0.2716],yd:[-0.5625,0.166],fx0:475.7,fx1:832,fy0:966,fy1:1335,xt:[-0.2,-0.1,0,0.1,0.2],yt:[-0.4,-0.2,0],fmt:".1f",
  xl:"PC1 (12.99%)",yl:"PC2 (8.47%)",xtx:654,ytx:440,yty:1151,ts:16,ell:lncEll,pts:[lncRec,lncIII,lncNoRec,lncLiver,lncColon,lncNormLiver]});
pca({id:"d",xd:[-0.541,0.287],yd:[-0.563,0.341],fx0:900.7,fx1:1259.3,fy0:966,fy1:1337,xt:[-0.5,-0.25,0,0.25],yt:[-0.4,-0.2,0,0.2],fmt:".2f",
  xl:"PC1 (39.06%)",yl:"PC2 (10.92%)",xtx:1080,ytx:865,yty:1153,ts:13.8,ell:circEll,pts:[circRec,circIII,circNoRec,circLiver,circColon,circNormLiver]});

const bottomBoxX=[171,360,572,771,942,1087], bottomY=[1396,1396,1396,1396,1398,1398];
bottomOrder.forEach((k,i)=>{
  const g=svg.append("g");
  g.append("rect").attr("x",bottomBoxX[i]).attr("y",bottomY[i]-7).attr("width",10).attr("height",14).attr("rx",1.5).attr("fill","#fff").attr("stroke",groupLines[k]).attr("stroke-opacity",0.65).attr("stroke-width",1.2);
  g.append("circle").attr("cx",bottomBoxX[i]+5).attr("cy",bottomY[i]).attr("r",2.4).attr("fill",groupDots[k]);
  g.append("text").attr("x",bottomBoxX[i]+19).attr("y",bottomY[i]+5.5).attr("font-family",SANS).attr("font-size",15.8).attr("font-weight",700).attr("fill","#222").text(groupNames[k]);
});
</script></body></html>
